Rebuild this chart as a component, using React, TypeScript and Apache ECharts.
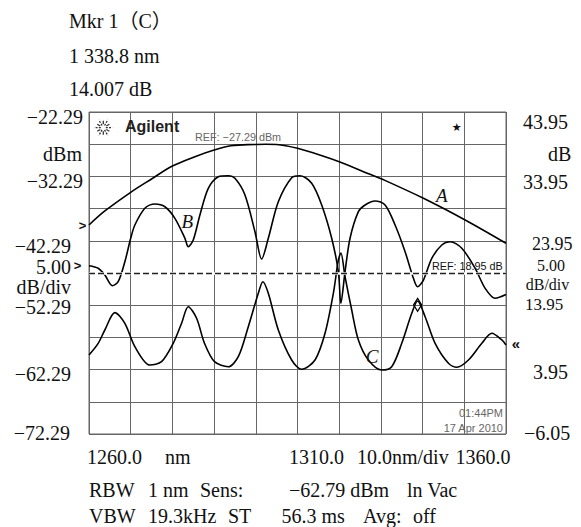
import React, { useEffect, useRef } from 'react';
import * as echarts from 'echarts';

// ---- data ----
const wavelengthA = [1260, 1263.8, 1270, 1275, 1280, 1285.4, 1290, 1294, 1300, 1302.5, 1305, 1310, 1316.6, 1320, 1327.4, 1330.2, 1340.2, 1350.2, 1360];
const traceA = [-39.84, -37.66, -34.76, -32.69, -30.68, -29.23, -28.19, -27.52, -27.33, -27.29, -27.33, -27.93, -29.23, -30.01, -31.96, -32.69, -35.69, -39.06, -42.68];

const wavelengthB = [1260, 1262.2, 1263.8, 1265.6, 1267.0, 1268.6, 1270.0, 1271.0, 1273.4, 1275.8, 1278.2, 1280.6, 1283.0, 1283.8, 1285.0, 1286.6, 1288.6, 1291.0, 1293.4, 1295.0, 1297.4, 1299.8, 1301.4, 1303.0, 1305.4, 1308.6, 1310.6, 1313.4, 1315.8, 1318.2, 1319.8, 1320.4, 1321.4, 1322.6, 1324.6, 1326.2, 1328.6, 1331.0, 1333.4, 1335.8, 1337.8, 1338.8, 1340.2, 1342.2, 1344.6, 1346.6, 1349.4, 1352.6, 1355.0, 1357.4, 1360];
const traceB = [20.08, 19.68, 18.64, 16.98, 17.6, 20.7, 24.34, 26.4, 29.0, 29.66, 29.24, 27.44, 24.34, 23.03, 24.07, 27.96, 32.1, 33.9, 34.06, 33.65, 31.06, 25.36, 21.12, 24.34, 30.02, 33.75, 34.06, 32.88, 29.51, 24.34, 19.15, 14.25, 19.15, 24.34, 28.47, 29.51, 30.13, 29.51, 26.4, 22.26, 18.13, 16.82, 17.86, 21.23, 23.3, 23.81, 22.79, 19.68, 16.57, 15.02, 15.6];

const wavelengthC = [1260, 1262.2, 1263.8, 1266.2, 1268.6, 1271.0, 1274.6, 1277.4, 1280.2, 1282.2, 1283.8, 1285.8, 1287.7, 1290.1, 1293.4, 1295.8, 1298.2, 1300.6, 1301.7, 1303.0, 1305.4, 1308.6, 1311.0, 1314.2, 1316.6, 1318.6, 1319.8, 1320.4, 1321.4, 1323.0, 1324.6, 1327.0, 1330.2, 1332.6, 1335.0, 1337.4, 1338.8, 1340.6, 1343.0, 1346.2, 1348.2, 1351.0, 1354.2, 1356.6, 1359.0, 1360];
const traceC = [6.22, 8.03, 10.1, 12.79, 11.14, 7.51, 4.66, 5.18, 8.03, 11.14, 13.72, 11.92, 8.03, 5.18, 4.4, 5.95, 10.61, 15.8, 17.6, 15.8, 10.1, 5.44, 4.0, 5.44, 9.59, 15.8, 20.97, 22.06, 18.38, 13.2, 8.55, 5.44, 3.89, 4.4, 8.03, 12.69, 14.6, 12.16, 8.03, 4.93, 4.31, 5.44, 8.03, 9.59, 8.55, 7.77];

const leftTickValues = [-22.29, -32.29, -42.29, -52.29, -62.29, -72.29];
const leftTickLabels = ['−22.29', '−32.29', '−42.29', '−52.29', '−62.29', '−72.29'];
const rightTickValues = [43.95, 33.95, 23.95, 13.95, 3.95, -6.05];
const rightTickLabels = ['43.95', '33.95', '23.95', '13.95', '3.95', '−6.05'];

const markerWavelength = 1338.8;
const markerValue = 14.007;
const refLevelA = -27.29;
const refLevelB = 18.95;

const headerLines = ['Mkr 1（C）', '1 338.8 nm', '14.007 dB'];
const footerRow1 = ['1260.0', 'nm', '1310.0', '10.0nm/div', '1360.0'];
const footerRow2 = ['RBW', '1 nm', 'Sens:', '−62.79 dBm', 'ln Vac'];
const footerRow3 = ['VBW', '19.3kHz', 'ST', '56.3 ms', 'Avg:', 'off'];

const zip = (xs: number[], ys: number[]) => xs.map((x, i) => [x, ys[i]]);

const SERIF = '"Liberation Serif", "Noto Sans CJK SC", serif';
const SANS = '"Liberation Sans", Arial, sans-serif';

function serifText(text: string, x: number, y: number, align: string = 'left', size = 20) {
  return {
    type: 'text', x, y, silent: true,
    style: { text, fill: '#111', fontFamily: SERIF, fontSize: size, align, verticalAlign: 'middle' },
  };
}

export default function App() {
  const ref = useRef<HTMLDivElement>(null);

  useEffect(() => {
    if (!ref.current) return;
    const chart = echarts.init(ref.current, undefined, { renderer: 'svg' });
    const lineStyle = { color: '#000', width: 1.6 };
    const option: any = {
      animation: false,
      backgroundColor: '#fff',
      grid: { left: 89, right: 75, top: 112, bottom: 93, show: true, borderColor: '#666', borderWidth: 1, backgroundColor: 'transparent' },
      xAxis: {
        type: 'value', min: 1260, max: 1360, interval: 10,
        axisLabel: { show: false }, axisTick: { show: false }, axisLine: { show: false },
        splitLine: { show: true, lineStyle: { color: '#666', width: 1 } },
      },
      yAxis: [
        { type: 'value', min: -72.29, max: -22.29, show: false },
        { type: 'value', min: -6.05, max: 43.95, show: false },
        {
          type: 'value', min: 0, max: 10, interval: 1, position: 'left',
          axisLabel: { show: false }, axisTick: { show: false }, axisLine: { show: false },
          splitLine: { show: true, lineStyle: { color: '#666', width: 1 } },
        },
      ],
      series: [
        {
          type: 'line', name: 'ref', data: [], yAxisIndex: 1, z: 1, silent: true,
          markLine: {
            silent: true, symbol: ['none', 'none'], label: { show: false },
            data: [
              { yAxis: refLevelB, lineStyle: { color: '#fff', width: 2.5, type: 'solid' } },
              { yAxis: refLevelB, lineStyle: { color: '#222', width: 1.3, type: [6, 3] } },
            ],
          },
        },
        { type: 'line', name: 'A', data: zip(wavelengthA, traceA), yAxisIndex: 0, smooth: 0.35, showSymbol: false, lineStyle, z: 3 },
        { type: 'line', name: 'B', data: zip(wavelengthB, traceB), yAxisIndex: 1, smooth: 0.3, showSymbol: false, lineStyle, z: 3 },
        {
          type: 'line', name: 'C', data: zip(wavelengthC, traceC), yAxisIndex: 1, smooth: 0.3, showSymbol: false, lineStyle, z: 3,
          markPoint: {
            symbol: 'diamond', symbolSize: [8, 13], silent: true,
            itemStyle: { color: 'rgba(0,0,0,0)', borderColor: '#000', borderWidth: 1.3 },
            label: { show: false },
            data: [{ coord: [markerWavelength, markerValue] }],
          },
        },
      ],
    };
    chart.setOption(option);

    const py = (axis: number, v: number) => chart.convertToPixel({ yAxisIndex: axis }, v) as number;
    const px = (v: number) => chart.convertToPixel({ xAxisIndex: 0 }, v) as number;

    const graphics: any[] = [];
    // header
    const headerY = [20.7, 55.5, 89];
    headerLines.forEach((t, i) => graphics.push(serifText(t, 69, headerY[i])));

    // left tick labels
    const leftRight = [83, 83, 71, 71, 71, 70];
    const leftDy = [5, 5, 4.8, 1.5, 4.5, -1];
    leftTickValues.forEach((v, i) => graphics.push(serifText(leftTickLabels[i], leftRight[i], py(0, v) + leftDy[i], 'right')));
    graphics.push(serifText('dBm', 82, 154, 'right'));
    graphics.push(serifText('5.00', 71, 266.5, 'right'));
    graphics.push(serifText('dB/div', 71, 286.5, 'right'));

    // right tick labels
    const rightLeft = [523, 523, 532, 525, 533, 524];
    const rightDy = [9.7, 5.3, 3.0, -1.2, 2.4, -1];
    const rightSize = [20, 20, 18, 17, 20, 20];
    rightTickValues.forEach((v, i) => {
      graphics.push(serifText(rightTickLabels[i], rightLeft[i], py(1, v) + rightDy[i], 'left', rightSize[i]));
    });
    graphics.push(serifText('dB', 548, 154, 'left'));
    graphics.push(serifText('5.00', 551, 265.5, 'center', 16));
    graphics.push(serifText('dB/div', 547.5, 284.2, 'center', 16));

    // arrows
    const arrow = (t: string, x: number, y: number, size = 13) => ({
      type: 'text', x, y, silent: true,
      style: { text: t, fill: '#111', fontFamily: SANS, fontSize: size, fontWeight: 'bold', align: 'center', verticalAlign: 'middle' },
    });
    graphics.push(arrow('>', 82.5, 225));
    graphics.push(arrow('>', 77.5, 265.5));
    graphics.push(arrow('«', 516, 343, 15));

    // footer
    const row1X = [87, 165, 289, 357, 455.6];
    footerRow1.forEach((t, i) => graphics.push(serifText(t, row1X[i], 457)));
    const row2X = [89, 148, 200, 289, 407];
    footerRow2.forEach((t, i) => graphics.push(serifText(t, row2X[i], 490)));
    const row3X = [89, 148, 228, 281.5, 363, 413];
    footerRow3.forEach((t, i) => graphics.push(serifText(t, row3X[i], 515.5)));

    // trace letters
    const italic = (t: string, x: number, y: number) => ({
      type: 'text', x, y, silent: true, z: 10,
      style: { text: t, fill: '#111', fontFamily: SERIF, fontStyle: 'italic', fontSize: 19, align: 'center', verticalAlign: 'middle' },
    });
    graphics.push(italic('A', px(1344.6), py(0, -35.18)));
    graphics.push(italic('B', px(1283.6), py(1, 27.02)));
    graphics.push(italic('C', px(1327.9), py(1, 5.98)));

    // instrument screen annotations
    const small = (t: string, x: number, y: number, color: string, align = 'left', size = 11, weight = 'normal') => ({
      type: 'text', x, y, silent: true, z: 10,
      style: { text: t, fill: color, fontFamily: SANS, fontSize: size, fontWeight: weight, align, verticalAlign: 'middle' },
    });
    graphics.push(small('Agilent', 125, 126.5, '#222', 'left', 16, 'bold'));
    graphics.push(small('REF: −' + Math.abs(refLevelA).toFixed(2) + ' dBm', 195, 136.5, '#666', 'left', 10.8));
    graphics.push(small('REF: ' + refLevelB.toFixed(2) + ' dB', 432, 265.8, '#111', 'left', 10.8));
    graphics.push(small('01:44PM', 503, 413.3, '#666', 'right', 11));
    graphics.push(small('17 Apr 2010', 503, 427.5, '#666', 'right', 11));
    graphics.push({
      type: 'text', x: 456.7, y: 127.7, silent: true, z: 10,
      style: { text: '★', fill: '#111', fontFamily: '"DejaVu Sans", sans-serif', fontSize: 11, align: 'center', verticalAlign: 'middle' },
    });

    // Agilent spark logo
    const cx = 103.3, cy = 127.7;
    const rays: any[] = [];
    for (let k = 0; k < 12; k++) {
      const a = (k * Math.PI) / 6;
      const r1 = k % 2 === 0 ? 2.5 : 3.5;
      const r2 = k % 2 === 0 ? 9 : 7;
      rays.push({
        type: 'line', silent: true,
        shape: { x1: cx + r1 * Math.cos(a), y1: cy + r1 * Math.sin(a), x2: cx + r2 * Math.cos(a), y2: cy + r2 * Math.sin(a) },
        style: { stroke: '#333', lineWidth: 1.3, lineDash: k % 2 === 0 ? [2, 1.2] : null },
      });
    }
    graphics.push({ type: 'group', z: 10, children: rays });

    chart.setOption({ graphic: graphics });

    return () => chart.dispose();
  }, []);

  return <div ref={ref} style={{ position: 'fixed', left: 0, top: 0, width: 581, height: 527, background: '#fff' }} />;
}
